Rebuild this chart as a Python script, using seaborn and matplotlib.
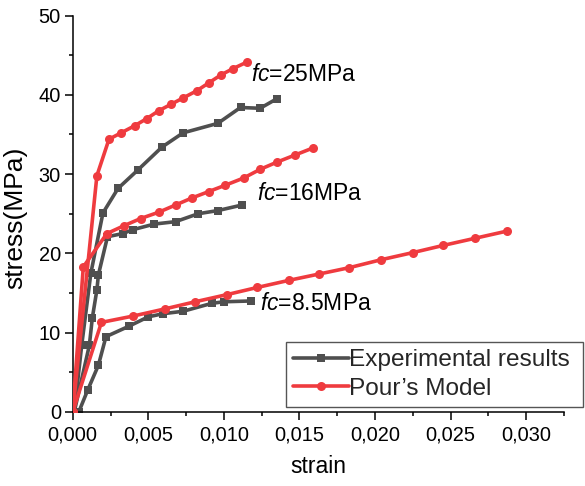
import numpy as np
import pandas as pd
import matplotlib
matplotlib.use("Agg")
import matplotlib.pyplot as plt
from matplotlib.ticker import MultipleLocator, FuncFormatter
from matplotlib.lines import Line2D
import seaborn as sns

# Experimental stress-strain curves
exp25_strain = [0.0001, 0.0006, 0.0012, 0.0020, 0.0030, 0.0043, 0.0059, 0.0073, 0.0096, 0.0111, 0.0124, 0.0135]
exp25_stress = [0.0, 8.5, 17.5, 25.1, 28.2, 30.5, 33.4, 35.2, 36.4, 38.4, 38.3, 39.5]

exp16_strain = [0.0001, 0.0011, 0.0013, 0.0016, 0.0017, 0.0023, 0.0033, 0.0040, 0.0054, 0.0068, 0.0083, 0.0096, 0.0112]
exp16_stress = [0.0, 8.4, 11.9, 15.4, 17.3, 22.1, 22.5, 23.0, 23.7, 24.0, 25.0, 25.4, 26.1]

exp85_strain = [0.0004, 0.0010, 0.0017, 0.0022, 0.0037, 0.0050, 0.0060, 0.0073, 0.0092, 0.0100, 0.0118]
exp85_stress = [0.0, 2.8, 5.9, 9.5, 10.8, 12.0, 12.4, 12.7, 13.7, 13.9, 14.0]

# Pour's model curves
pour25_strain = [0.0, 0.0016, 0.0024, 0.0032, 0.0041, 0.0049, 0.0057, 0.0065, 0.0073, 0.0082, 0.0090, 0.0098, 0.0106, 0.0115]
pour25_stress = [0.0, 29.8, 34.4, 35.2, 36.1, 37.0, 38.0, 38.8, 39.6, 40.5, 41.5, 42.5, 43.3, 44.1]

pour16_strain = [0.0, 0.0007, 0.00226, 0.0034, 0.0045, 0.0057, 0.0068, 0.0079, 0.0090, 0.0101, 0.0113, 0.0124, 0.0135, 0.0147, 0.0159]
pour16_stress = [0.0, 18.3, 22.5, 23.5, 24.4, 25.2, 26.1, 27.0, 27.8, 28.6, 29.5, 30.6, 31.5, 32.4, 33.3]

pour85_strain = [0.0, 0.0019, 0.0040, 0.0061, 0.0081, 0.0102, 0.0122, 0.0143, 0.0163, 0.0183, 0.0204, 0.0225, 0.0245, 0.0266, 0.0287]
pour85_stress = [0.0, 11.3, 12.1, 13.0, 13.9, 14.8, 15.7, 16.6, 17.4, 18.2, 19.2, 20.1, 21.0, 21.9, 22.8]

curve_labels = ["fc=25MPa", "fc=16MPa", "fc=8.5MPa"]
legend_labels = ["Experimental results", "Pour\u2019s Model"]

sns.set_theme(style="ticks")
plt.rcParams["font.family"] = ["Liberation Sans", "DejaVu Sans"]
plt.rcParams["mathtext.fontset"] = "custom"
plt.rcParams["mathtext.rm"] = "Liberation Sans"
plt.rcParams["mathtext.it"] = "Liberation Sans:italic"

GRAY = "#4f4f4f"
RED = "#ef3b3f"

fig = plt.figure(figsize=(5.85, 4.86), dpi=100)
ax = fig.add_axes([0.1243, 0.1523, 0.8398, 0.8158])

exp_sets = [(exp25_strain, exp25_stress), (exp16_strain, exp16_stress), (exp85_strain, exp85_stress)]
pour_sets = [(pour25_strain, pour25_stress), (pour16_strain, pour16_stress), (pour85_strain, pour85_stress)]

for xs, ys in exp_sets:
    df = pd.DataFrame({"strain": xs, "stress": ys})
    sns.lineplot(data=df, x="strain", y="stress", ax=ax, sort=False, estimator=None,
                 color=GRAY, linewidth=2.6, marker="s", markersize=5.2,
                 markeredgewidth=0, zorder=2)
for xs, ys in pour_sets:
    df = pd.DataFrame({"strain": xs, "stress": ys})
    sns.lineplot(data=df, x="strain", y="stress", ax=ax, sort=False, estimator=None,
                 color=RED, linewidth=2.6, marker="o", markersize=6.5,
                 markeredgewidth=0, zorder=3)

ax.set_xlim(0, 0.0325)
ax.set_ylim(0, 50)
ax.xaxis.set_major_locator(MultipleLocator(0.005))
ax.xaxis.set_minor_locator(MultipleLocator(0.0025))
ax.yaxis.set_major_locator(MultipleLocator(10))
ax.yaxis.set_minor_locator(MultipleLocator(5))
ax.xaxis.set_major_formatter(FuncFormatter(lambda v, p: f"{v:.3f}".replace(".", ",")))
ax.yaxis.set_major_formatter(FuncFormatter(lambda v, p: f"{v:.0f}"))

sns.despine(ax=ax)
for s in ["left", "bottom"]:
    ax.spines[s].set_linewidth(1.1)
    ax.spines[s].set_color("black")
ax.tick_params(axis="both", which="major", direction="out", length=5.5, width=1.1,
               labelsize=14.4, colors="black", pad=3)
ax.tick_params(axis="both", which="minor", direction="out", length=3.2, width=1.1, colors="black")
ax.tick_params(axis="x", which="major", pad=4)

ax.set_xlabel("strain", fontsize=16.5, color="black")
ax.set_ylabel("stress(MPa)", fontsize=19, color="black")
ax.xaxis.set_label_coords(0.501, -0.108)
ax.yaxis.set_label_coords(-0.092, 0.49)
ax.grid(False)

# curve annotations
ann_pos = [(0.01177, 42.5), (0.0122, 27.5), (0.0124, 13.7)]
for lab, (xv, yv) in zip(curve_labels, ann_pos):
    txt = r"$\mathit{fc}$" + lab[2:]
    ax.text(xv, yv, txt, fontsize=16.5, ha="left", va="center", color="black")

handles = [
    Line2D([], [], color=GRAY, linewidth=2.6, marker="s", markersize=5.2, markeredgewidth=0),
    Line2D([], [], color=RED, linewidth=2.6, marker="o", markersize=6.5, markeredgewidth=0),
]
leg = ax.legend(handles, legend_labels, loc="lower left",
                bbox_to_anchor=(285.7 / 585, (486 - 407) / 486, 297 / 585, 63 / 486),
                bbox_transform=fig.transFigure, borderaxespad=0, mode="expand",
                fontsize=17.6, handlelength=2.3, handletextpad=0.0,
                borderpad=0.3, labelspacing=0.25, fancybox=False,
                frameon=True, framealpha=1)
leg.get_frame().set_edgecolor("#555555")
leg.get_frame().set_linewidth(1.0)

fig.savefig("out.png", dpi=100)
